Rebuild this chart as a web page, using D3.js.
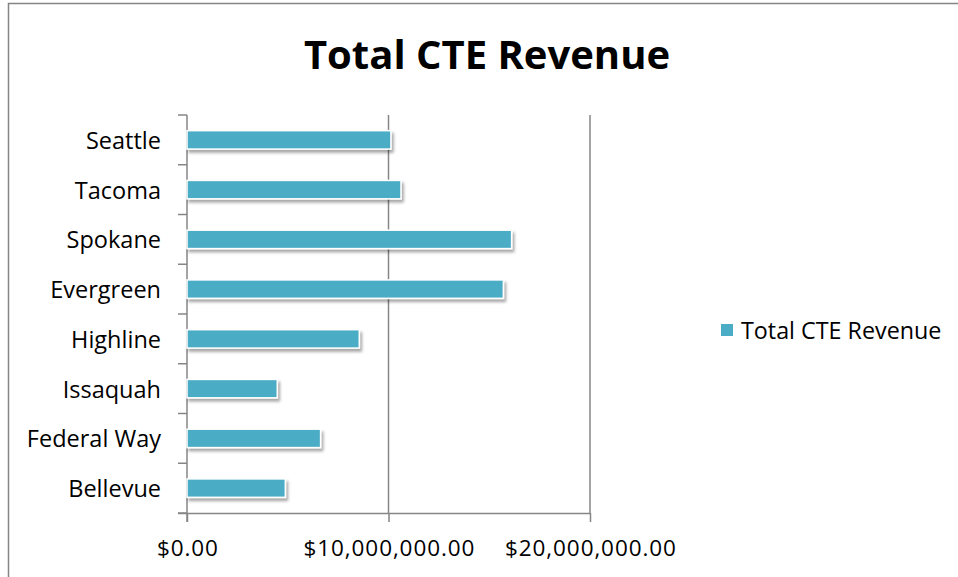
<!DOCTYPE html>
<html>
<head>
<meta charset="utf-8">
<script src="https://cdn.jsdelivr.net/npm/d3@7"></script>
<style>
  body { margin: 0; background: #fff; }
  svg { display: block; font-family: "Open Sans", sans-serif; }
</style>
</head>
<body>
<div id="chart"></div>
<script>
/* Datos de la grafica */
var categorias = ["Seattle", "Tacoma", "Spokane", "Evergreen", "Highline", "Issaquah", "Federal Way", "Bellevue"];
var ingresos = [10120000, 10620000, 16110000, 15700000, 8550000, 4480000, 6630000, 4880000];
var ticksX = [0, 10000000, 20000000];
var serie = "Total CTE Revenue";
var titulo = "Total CTE Revenue";

var w = 958, h = 577;
var margin = { top: 115, left: 187, right: 368, bottom: 64 };
var fuente = "'Open Sans', sans-serif";

var svg = d3.select("#chart").append("svg")
    .attr("width", w)
    .attr("height", h);

// sombra de las barras
var defs = svg.append("defs");
var filtro = defs.append("filter").attr("id", "sombra")
    .attr("x", "-10%").attr("y", "-30%").attr("width", "130%").attr("height", "190%");
filtro.append("feDropShadow")
    .attr("dx", 2).attr("dy", 3).attr("stdDeviation", 1.8)
    .attr("flood-color", "#000").attr("flood-opacity", 0.35);

// marco del area del grafico
svg.append("rect")
    .attr("x", 8.5).attr("y", 3.5)
    .attr("width", 1200).attr("height", 1200)
    .attr("fill", "none").attr("stroke", "#858585").attr("stroke-width", 1.5);

// titulo
svg.append("text")
    .attr("x", 487).attr("y", 69)
    .attr("text-anchor", "middle")
    .style("font-size", "40px").style("font-weight", "bold")
    .text(titulo);

var x = d3.scaleLinear()
    .domain([0, 20000000])
    .range([margin.left, 590]);

var y = d3.scaleBand()
    .domain(categorias)
    .range([margin.top, 513])
    .paddingInner(0.63)
    .paddingOuter(0.315);

var g = svg.append("g");

// lineas de division verticales
g.selectAll(".grid")
    .data(ticksX.slice(1))
    .enter().append("line")
    .attr("x1", function(d) { return x(d); })
    .attr("x2", function(d) { return x(d); })
    .attr("y1", margin.top).attr("y2", 513)
    .attr("stroke", "#868686").attr("stroke-width", 1.5);

// eje x
var ejeX = g.append("g")
    .attr("transform", "translate(0,513)")
    .call(d3.axisBottom(x)
        .tickValues(ticksX)
        .tickSizeInner(9).tickSizeOuter(0)
        .tickPadding(18)
        .tickFormat(function(d) { return "$" + d3.format(",.2f")(d); }));
ejeX.select(".domain").attr("stroke", "#868686").attr("stroke-width", 1.5)
    .attr("d", "M178,0.5H590");
ejeX.selectAll(".tick line").attr("stroke", "#868686").attr("stroke-width", 1.5);
ejeX.selectAll("text").style("font-size", "22.5px").attr("fill", "#000")
    .style("letter-spacing", "0.9px")
    .attr("dx", "0.4")
    .style("font-family", fuente);

// eje y (marcas entre categorias)
var limites = d3.range(categorias.length + 1).map(function(i) {
    return margin.top + i * (513 - margin.top) / categorias.length;
});
g.append("line")
    .attr("x1", margin.left).attr("x2", margin.left)
    .attr("y1", margin.top).attr("y2", 522)
    .attr("stroke", "#868686").attr("stroke-width", 1.5);
g.selectAll(".ytick")
    .data(limites)
    .enter().append("line")
    .attr("x1", 178).attr("x2", margin.left)
    .attr("y1", function(d) { return d; })
    .attr("y2", function(d) { return d; })
    .attr("stroke", "#868686").attr("stroke-width", 1.5);

g.selectAll(".ylabel")
    .data(categorias)
    .enter().append("text")
    .attr("x", 161)
    .attr("y", function(d) { return y(d) + y.bandwidth() / 2; })
    .attr("dy", "0.38em")
    .attr("text-anchor", "end")
    .style("font-size", "23.5px")
    .text(function(d) { return d; });

// barras
g.selectAll(".bar")
    .data(ingresos)
    .enter().append("rect")
    .attr("class", "bar")
    .attr("x", x(0))
    .attr("y", function(d, i) { return y(categorias[i]); })
    .attr("width", function(d) { return x(d) - x(0); })
    .attr("height", y.bandwidth())
    .attr("fill", "#4BACC6")
    .attr("stroke", "#fff").attr("stroke-width", 1.5)
    .attr("filter", "url(#sombra)");

// leyenda
var ley = svg.append("g").attr("transform", "translate(721,324)");
ley.append("rect").attr("width", 12).attr("height", 12).attr("fill", "#4BACC6");
ley.append("text").attr("x", 20).attr("y", 6).attr("dy", "0.38em")
    .style("font-size", "23.3px").text(serie);
</script>
</body>
</html>
